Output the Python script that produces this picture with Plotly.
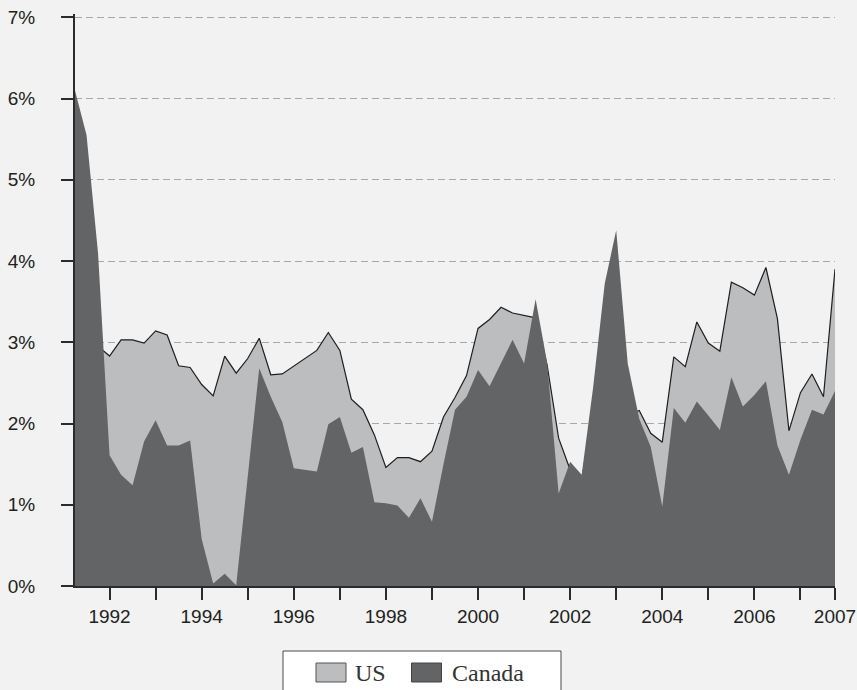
import plotly.graph_objects as go

# Quarterly observations, 1991 Q2 .. 2007 Q4 (decimal year of each quarter)
quarters = [1991.25 + 0.25 * i for i in range(67)]

us = [4.90, 4.40, 2.95, 2.83, 3.03, 3.03, 2.99, 3.14, 3.09, 2.71,
      2.69, 2.48, 2.34, 2.83, 2.62, 2.80, 3.05, 2.60, 2.61, 2.71,
      2.80, 2.90, 3.12, 2.90, 2.30, 2.17, 1.86, 1.46, 1.58, 1.58,
      1.53, 1.66, 2.08, 2.32, 2.59, 3.17, 3.28, 3.43, 3.36, 3.33,
      3.30, 2.72, 1.82, 1.43, 1.30, 2.20, 2.90, 2.60, 2.10, 2.16,
      1.88, 1.77, 2.82, 2.70, 3.25, 2.99, 2.89, 3.74, 3.67, 3.58,
      3.92, 3.29, 1.91, 2.38, 2.61, 2.33, 3.90]

canada = [6.10, 5.55, 4.10, 1.61, 1.37, 1.24, 1.78, 2.04, 1.73, 1.73,
          1.79, 0.58, 0.03, 0.15, 0.01, 1.37, 2.68, 2.33, 2.02, 1.45,
          1.43, 1.41, 1.99, 2.08, 1.64, 1.71, 1.03, 1.02, 0.99, 0.84,
          1.08, 0.79, 1.50, 2.17, 2.33, 2.66, 2.46, 2.74, 3.03, 2.74,
          3.53, 2.75, 1.14, 1.53, 1.37, 2.45, 3.72, 4.38, 2.74, 2.06,
          1.71, 0.98, 2.19, 2.01, 2.27, 2.10, 1.92, 2.57, 2.21, 2.35,
          2.52, 1.73, 1.37, 1.80, 2.17, 2.11, 2.40]

x_tickvals = [1992, 1993, 1994, 1995, 1996, 1997, 1998, 1999, 2000, 2001,
              2002, 2003, 2004, 2005, 2006, 2007, 2007.75]
x_ticktext = ["1992", "", "1994", "", "1996", "", "1998", "", "2000", "",
              "2002", "", "2004", "", "2006", "", "2007"]

y_tickvals = [0, 1, 2, 3, 4, 5, 6, 7]
y_ticktext = ["0%", "1%", "2%", "3%", "4%", "5%", "6%", "7%"]

series_names = ["US", "Canada"]

US_FILL = "#bcbdbf"
CA_FILL = "#636466"
BG = "#f2f2f2"
AXIS = "#2b2b2b"

fig = go.Figure()
fig.add_trace(go.Scatter(
    x=quarters, y=us, name=series_names[0], mode="lines",
    fill="tozeroy", fillcolor=US_FILL,
    line=dict(color="#1e1e1e", width=1.2),
    showlegend=False, hoverinfo="x+y+name"))
fig.add_trace(go.Scatter(
    x=quarters, y=canada, name=series_names[1], mode="lines",
    fill="tozeroy", fillcolor=CA_FILL,
    line=dict(color=CA_FILL, width=0),
    showlegend=False, hoverinfo="x+y+name"))

# plot-area geometry (pixels) used to place the hand-built legend
L, R, T, B = 75, 22, 14, 104
W, H = 857, 690
pw, ph = W - L - R, H - T - B
Y_TOP = 7.04

def px(xp):
    return (xp - L) / pw

def py(yp):
    return (H - B - yp) / ph

shapes = [
    dict(type="rect", xref="paper", yref="paper",
         x0=px(283), x1=px(561), y0=py(651), y1=py(695),
         fillcolor="white", line=dict(color="#4a4a4a", width=1), layer="above"),
    dict(type="rect", xref="paper", yref="paper",
         x0=px(316), x1=px(346), y0=py(663), y1=py(682),
         fillcolor=US_FILL, line=dict(color="#555555", width=1), layer="above"),
    dict(type="rect", xref="paper", yref="paper",
         x0=px(411.5), x1=px(441.5), y0=py(663), y1=py(682),
         fillcolor=CA_FILL, line=dict(color="#444444", width=1), layer="above"),
]
annotations = [
    dict(xref="paper", yref="paper", x=px(353), y=py(673), text=series_names[0],
         showarrow=False, xanchor="left", yanchor="middle",
         font=dict(family="Liberation Serif", size=24, color="#333333")),
    dict(xref="paper", yref="paper", x=px(450), y=py(673), text=series_names[1],
         showarrow=False, xanchor="left", yanchor="middle",
         font=dict(family="Liberation Serif", size=24, color="#333333")),
]

fig.update_layout(
    width=W, height=H,
    margin=dict(l=L, r=R, t=T, b=B, pad=0, autoexpand=False),
    paper_bgcolor=BG, plot_bgcolor=BG,
    font=dict(family="Liberation Sans", size=19, color="#222222"),
    shapes=shapes, annotations=annotations,
    showlegend=False,
    xaxis=dict(
        range=[1991.25, 2007.75], tickmode="array",
        tickvals=x_tickvals, ticktext=x_ticktext,
        ticks="outside", ticklen=12, tickwidth=1.5, tickcolor=AXIS,
        showline=True, linecolor=AXIS, linewidth=2, automargin=False,
        showgrid=False, zeroline=False, ticklabelstandoff=0),
    yaxis=dict(
        range=[0, Y_TOP], tickmode="array",
        tickvals=y_tickvals, ticktext=y_ticktext,
        ticks="outside", ticklen=12, tickwidth=1.5, tickcolor=AXIS,
        showline=True, linecolor=AXIS, linewidth=2, automargin=False,
        showgrid=True, gridcolor="#a8a8a8", gridwidth=1.3, griddash="7px,4px",
        zeroline=False, ticklabelstandoff=22),
)

fig.write_html(
    "out.html",
    config={"displayModeBar": False},
    post_script="document.body.style.margin='0';document.body.style.padding='0';document.body.style.background='#f2f2f2';",
)
